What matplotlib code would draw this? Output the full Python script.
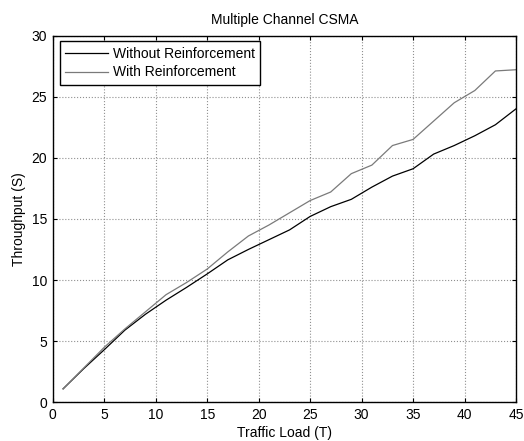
import matplotlib
matplotlib.use("Agg")
import matplotlib.pyplot as plt

plt.rcParams["font.family"] = ["Liberation Sans", "DejaVu Sans"]
plt.rcParams["font.size"] = 10

traffic = list(range(1, 46, 2))
without_rl = [1.1, 2.75, 4.3, 5.9, 7.2, 8.35, 9.4, 10.5, 11.65, 12.5, 13.3, 14.1,
              15.2, 16.0, 16.6, 17.6, 18.5, 19.1, 20.3, 21.0, 21.8, 22.7, 24.0]
with_rl = [1.1, 2.8, 4.5, 6.0, 7.4, 8.8, 9.8, 10.9, 12.3, 13.6, 14.5, 15.5,
           16.5, 17.2, 18.7, 19.4, 21.0, 21.5, 23.0, 24.5, 25.5, 27.1, 27.2]

fig = plt.figure(figsize=(5.24, 4.41), dpi=100)
ax = fig.add_axes([0.1008, 0.0878, 0.8839, 0.8317])

ax.plot(traffic, without_rl, color="black", lw=0.9, label="Without Reinforcement")
ax.plot(traffic, with_rl, color="#7a7a7a", lw=0.9, label="With Reinforcement")

ax.set_xlim(0, 45)
ax.set_ylim(0, 30)
ax.set_xticks(range(0, 46, 5))
ax.set_yticks(range(0, 31, 5))
ax.grid(True, color="#909090", linestyle=":", linewidth=0.8)
ax.tick_params(direction="in", top=True, right=True, length=3, width=0.8, pad=4)
for s in ax.spines.values():
    s.set_linewidth(1.0)

ax.set_title("Multiple Channel CSMA", fontsize=10, pad=8)
ax.set_xlabel("Traffic Load (T)", labelpad=3)
ax.set_ylabel("Throughput (S)", labelpad=4)

leg = ax.legend(loc="upper left", bbox_to_anchor=(0.015, 0.985), borderaxespad=0,
                fancybox=False, framealpha=1, edgecolor="black", handlelength=3.1,
                borderpad=0.4, labelspacing=0.35, handletextpad=0.3, fontsize=10)
leg.get_frame().set_linewidth(1.0)

fig.savefig("out.png", dpi=100)
